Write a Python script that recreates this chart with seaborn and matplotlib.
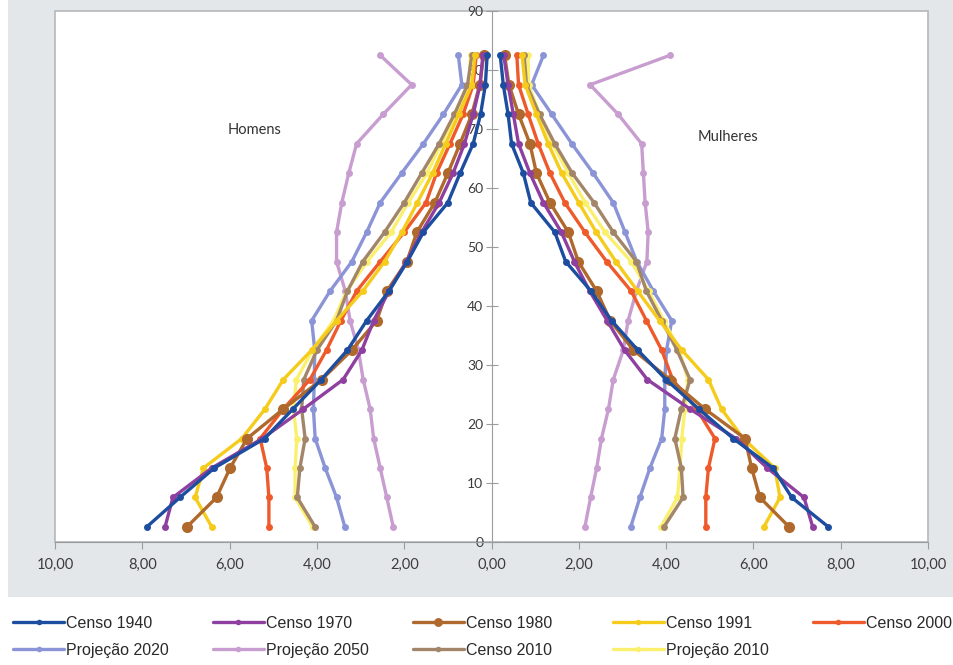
import matplotlib
matplotlib.use('Agg')
import matplotlib.pyplot as plt
from matplotlib.patches import Rectangle
from matplotlib.lines import Line2D
import seaborn as sns
import pandas as pd

# grupos de idade (ponto médio de cada faixa quinquenal)
idades = [2.5, 7.5, 12.5, 17.5, 22.5, 27.5, 32.5, 37.5, 42.5, 47.5,
          52.5, 57.5, 62.5, 67.5, 72.5, 77.5, 82.5]

# % da população total
homens_1940 = [7.90, 7.14, 6.35, 5.20, 4.55, 3.90, 3.30, 2.86, 2.35, 1.93, 1.56, 1.00, 0.72, 0.42, 0.25, 0.14, 0.10]
mulheres_1940 = [7.72, 6.88, 6.45, 5.54, 4.75, 4.00, 3.35, 2.75, 2.28, 1.70, 1.45, 0.90, 0.73, 0.46, 0.38, 0.27, 0.20]

homens_1970 = [7.48, 7.30, 6.41, 5.25, 4.31, 3.40, 2.97, 2.70, 2.35, 1.95, 1.60, 1.20, 0.88, 0.62, 0.42, 0.26, 0.20]
mulheres_1970 = [7.36, 7.16, 6.32, 5.60, 4.55, 3.57, 3.05, 2.65, 2.25, 1.90, 1.60, 1.19, 0.88, 0.62, 0.50, 0.38, 0.28]

homens_1980 = [6.98, 6.30, 5.99, 5.60, 4.77, 3.89, 3.20, 2.63, 2.40, 1.94, 1.71, 1.30, 1.00, 0.72, 0.45, 0.27, 0.18]
mulheres_1980 = [6.82, 6.15, 5.96, 5.81, 4.89, 4.09, 3.25, 2.72, 2.41, 1.99, 1.76, 1.34, 1.03, 0.88, 0.62, 0.40, 0.30]

homens_1991 = [6.41, 6.79, 6.60, 5.72, 5.19, 4.77, 4.12, 3.55, 2.95, 2.45, 2.05, 1.70, 1.35, 1.05, 0.75, 0.45, 0.38]
mulheres_1991 = [6.24, 6.61, 6.49, 5.77, 5.27, 4.97, 4.36, 3.85, 3.35, 2.85, 2.40, 2.00, 1.61, 1.30, 1.03, 0.77, 0.70]

homens_2000 = [5.10, 5.10, 5.15, 5.30, 4.77, 4.16, 3.78, 3.45, 3.09, 2.55, 2.00, 1.50, 1.26, 0.95, 0.65, 0.42, 0.35]
mulheres_2000 = [4.91, 4.91, 4.97, 5.12, 4.70, 4.15, 3.90, 3.55, 3.20, 2.64, 2.14, 1.68, 1.34, 1.07, 0.84, 0.62, 0.58]

homens_p2020 = [3.36, 3.55, 3.81, 4.04, 4.08, 4.06, 4.05, 4.12, 3.70, 3.20, 2.86, 2.55, 2.06, 1.56, 1.10, 0.68, 0.76]
mulheres_p2020 = [3.19, 3.40, 3.63, 3.90, 3.97, 3.97, 4.01, 4.13, 3.71, 3.33, 3.06, 2.79, 2.33, 1.84, 1.38, 0.92, 1.19]

homens_p2050 = [2.25, 2.40, 2.55, 2.70, 2.78, 2.94, 3.05, 3.24, 3.35, 3.55, 3.55, 3.43, 3.27, 3.09, 2.48, 1.83, 2.55]
mulheres_p2050 = [2.14, 2.27, 2.41, 2.52, 2.68, 2.79, 3.02, 3.13, 3.32, 3.56, 3.59, 3.52, 3.48, 3.44, 2.90, 2.26, 4.09]

homens_2010 = [4.04, 4.45, 4.39, 4.27, 4.35, 4.30, 4.00, 3.55, 3.30, 2.95, 2.45, 2.00, 1.60, 1.20, 0.85, 0.55, 0.45]
mulheres_2010 = [3.95, 4.39, 4.35, 4.20, 4.35, 4.55, 4.25, 3.90, 3.55, 3.32, 2.79, 2.35, 1.85, 1.45, 1.10, 0.80, 0.75]

homens_p2010 = [4.10, 4.50, 4.50, 4.46, 4.54, 4.47, 4.10, 3.62, 3.32, 2.85, 2.30, 1.91, 1.48, 1.15, 0.82, 0.52, 0.48]
mulheres_p2010 = [3.88, 4.26, 4.32, 4.36, 4.43, 4.50, 4.30, 3.95, 3.60, 3.20, 2.60, 2.15, 1.76, 1.40, 1.10, 0.85, 0.84]

nomes = ['Censo 1940', 'Censo 1970', 'Censo 1980', 'Censo 1991', 'Censo 2000',
         'Projeção 2020', 'Projeção 2050', 'Censo 2010', 'Projeção 2010']
homens = [homens_1940, homens_1970, homens_1980, homens_1991, homens_2000,
          homens_p2020, homens_p2050, homens_2010, homens_p2010]
mulheres = [mulheres_1940, mulheres_1970, mulheres_1980, mulheres_1991, mulheres_2000,
            mulheres_p2020, mulheres_p2050, mulheres_2010, mulheres_p2010]
cores = ['#1d4d9e', '#8e3f9f', '#b0692c', '#f5cb1c', '#ee5a2b',
         '#8b94d6', '#c89dd0', '#a3866a', '#faf06e']
tam_marcador = [5, 5, 8, 5, 5, 5, 5, 5, 5]

linhas = []
for nome, h, m in zip(nomes, homens, mulheres):
    for idade, v in zip(idades, h):
        linhas.append({'serie': nome, 'sexo': 'Homens', 'idade': idade, 'valor': -v})
    for idade, v in zip(idades, m):
        linhas.append({'serie': nome, 'sexo': 'Mulheres', 'idade': idade, 'valor': v})
df = pd.DataFrame(linhas)

sns.set_style('white')
plt.rcParams['font.family'] = ['Lato', 'DejaVu Sans']

fig = plt.figure(figsize=(9.54, 6.65), dpi=100)
fig.patch.set_facecolor('white')
fig.add_artist(Rectangle((0.008, 0.102), 0.992, 0.898, transform=fig.transFigure,
                         facecolor='#e4e7ea', edgecolor='none', zorder=0))
ax = fig.add_axes([0.0577, 0.1854, 0.915, 0.798])
ax.set_zorder(1)
ax.patch.set_facecolor('white')
ax.patch.set_edgecolor('#b5b8bb')
ax.patch.set_linewidth(1.2)

ordem = [6, 5, 8, 7, 4, 3, 2, 1, 0]
for i in ordem:
    sub = df[df['serie'] == nomes[i]]
    for sexo in ['Homens', 'Mulheres']:
        s = sub[sub['sexo'] == sexo]
        sns.lineplot(data=s, x='valor', y='idade', sort=False, estimator=None,
                     color=cores[i], linewidth=2.4, marker='o',
                     markersize=tam_marcador[i], markeredgewidth=0, ax=ax, legend=False)

ax.set_xlim(-10, 10)
ax.set_ylim(0, 90)
ax.set_xlabel('')
ax.set_ylabel('')

for lado in ['top', 'right']:
    ax.spines[lado].set_visible(False)
ax.spines['left'].set_position(('data', 0))
ax.spines['left'].set_color('#9a9da0')
ax.spines['bottom'].set_color('#9a9da0')

xt = list(range(-10, 11, 2))
ax.set_xticks(xt)
ax.set_xticklabels([f'{abs(v):.2f}'.replace('.', ',') for v in xt])
ax.set_yticks(range(0, 91, 10))
ax.set_yticklabels([str(v) for v in range(0, 91, 10)])
ax.tick_params(axis='x', direction='out', length=5, color='#9a9da0',
               labelsize=10.5, labelcolor='#3c3c3c', pad=7, bottom=True)
ax.tick_params(axis='y', direction='inout', length=8, color='#9a9da0',
               labelsize=10, labelcolor='#3c3c3c', pad=2, left=True)

ax.text(-5.42, 69.8, 'Homens', fontsize=10.5, color='#333333', ha='center', va='center')
ax.text(5.42, 68.6, 'Mulheres', fontsize=10.5, color='#333333', ha='center', va='center')

# legenda: 5 colunas de largura igual, 2 linhas cada
colunas = [[0, 5], [1, 6], [2, 7], [3, 8], [4]]
for k, col in enumerate(colunas):
    hs = [Line2D([0], [0], color=cores[i], linewidth=2.4, marker='o',
                 markersize=tam_marcador[i] * 0.8, markeredgewidth=0) for i in col]
    fig.legend(hs, [nomes[i] for i in col], loc='upper left',
               bbox_to_anchor=(0.0136 + k * 0.2096, 1 - 616 / 665),
               frameon=False, borderpad=0, borderaxespad=0,
               handlelength=3.2, handletextpad=0.15, labelspacing=0.75,
               prop={'family': ['Liberation Sans', 'DejaVu Sans'], 'size': 11.5},
               labelcolor='#2a2a2a')

fig.savefig('out.png', dpi=100)
